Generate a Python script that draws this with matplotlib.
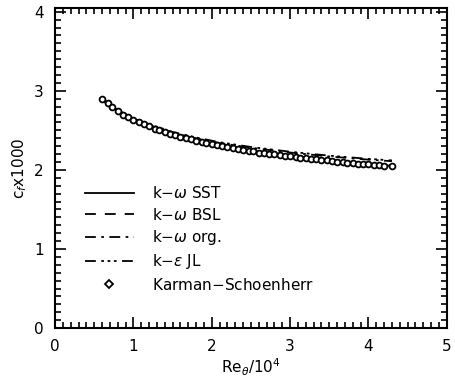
import matplotlib
matplotlib.use('Agg')
import matplotlib.pyplot as plt
from matplotlib.ticker import MultipleLocator

# Karman-Schoenherr correlation points
ks_re = [0.60, 0.67, 0.73, 0.80, 0.87, 0.93, 1.00, 1.07, 1.13, 1.20, 1.27, 1.33,
         1.40, 1.47, 1.53, 1.60, 1.67, 1.73, 1.80, 1.87, 1.93, 2.00, 2.07, 2.13,
         2.20, 2.27, 2.33, 2.40, 2.47, 2.53, 2.60, 2.67, 2.73, 2.80, 2.87, 2.93,
         3.00, 3.07, 3.13, 3.20, 3.27, 3.33, 3.40, 3.47, 3.53, 3.60, 3.67, 3.73,
         3.80, 3.87, 3.93, 4.00, 4.07, 4.13, 4.20, 4.30]
ks_cf = [2.90, 2.84, 2.80, 2.75, 2.70, 2.67, 2.63, 2.60, 2.58, 2.55, 2.52, 2.50,
         2.48, 2.46, 2.44, 2.42, 2.40, 2.39, 2.37, 2.35, 2.34, 2.33, 2.31, 2.30,
         2.29, 2.28, 2.27, 2.25, 2.24, 2.235, 2.22, 2.21, 2.205, 2.20, 2.19, 2.18,
         2.17, 2.16, 2.155, 2.15, 2.14, 2.135, 2.13, 2.12, 2.113, 2.106, 2.10, 2.093,
         2.087, 2.081, 2.075, 2.069, 2.063, 2.058, 2.053, 2.045]

# model results
re_model = [0.6, 0.8, 1.0, 1.2, 1.5, 1.8, 2.1, 2.5, 3.0, 3.5, 4.0, 4.3]
cf_sst = [2.90, 2.75, 2.64, 2.56, 2.45, 2.38, 2.31, 2.24, 2.17, 2.12, 2.07, 2.05]
cf_bsl = [2.90, 2.76, 2.65, 2.57, 2.46, 2.39, 2.32, 2.25, 2.18, 2.13, 2.08, 2.06]
cf_org = [2.90, 2.75, 2.65, 2.57, 2.47, 2.40, 2.34, 2.28, 2.22, 2.17, 2.13, 2.11]
cf_jl = [2.88, 2.74, 2.64, 2.58, 2.48, 2.41, 2.35, 2.29, 2.23, 2.18, 2.14, 2.12]

plt.rcParams['font.family'] = ['DejaVu Sans']
fig = plt.figure(figsize=(4.55, 3.91), dpi=100)
ax = fig.add_axes([0.121, 0.161, 0.861, 0.819])

lw = 1.3
ax.plot(re_model, cf_sst, color='black', lw=lw, ls='-', label=r'k$-\omega$ SST')
ax.plot(re_model, cf_bsl, color='black', lw=lw, ls=(0, (6, 5)), label=r'k$-\omega$ BSL')
ax.plot(re_model, cf_org, color='black', lw=lw, ls=(0, (6, 3, 1.5, 3)), label=r'k$-\omega$ org.')
ax.plot(re_model, cf_jl, color='black', lw=lw, ls=(0, (6, 3, 1.5, 2, 1.5, 2, 1.5, 3)), label=r'k$-\epsilon$ JL')
ax.plot(ks_re, ks_cf, ls='none', marker='o', ms=4.2, mfc='white', mec='black', mew=1.3)
# legend entry for the correlation
ax.plot([], [], ls='none', marker='D', ms=3.8, mfc='white', mec='black', mew=1.3,
        label='Karman$-$Schoenherr')

ax.set_xlim(0, 5)
ax.set_ylim(0, 4.05)
ax.xaxis.set_major_locator(MultipleLocator(1))
ax.xaxis.set_minor_locator(MultipleLocator(0.1))
ax.yaxis.set_major_locator(MultipleLocator(1))
ax.yaxis.set_minor_locator(MultipleLocator(0.1))
ax.tick_params(which='both', direction='in', top=True, right=True, width=1.2)
ax.tick_params(which='major', length=8, labelsize=11, pad=8)
ax.tick_params(which='minor', length=4)
for s in ax.spines.values():
    s.set_linewidth(1.5)

ax.set_xlabel(r'Re$_\theta$/10$^4$', fontsize=11, labelpad=2)
ax.set_ylabel(r'c$_f$x1000', fontsize=11, labelpad=4)

leg = ax.legend(loc='upper left', bbox_to_anchor=(0.06, 0.465), frameon=False,
                fontsize=11, handlelength=3.2, handletextpad=1.2,
                labelspacing=0.35, borderaxespad=0)

fig.savefig('out.png', dpi=100)
